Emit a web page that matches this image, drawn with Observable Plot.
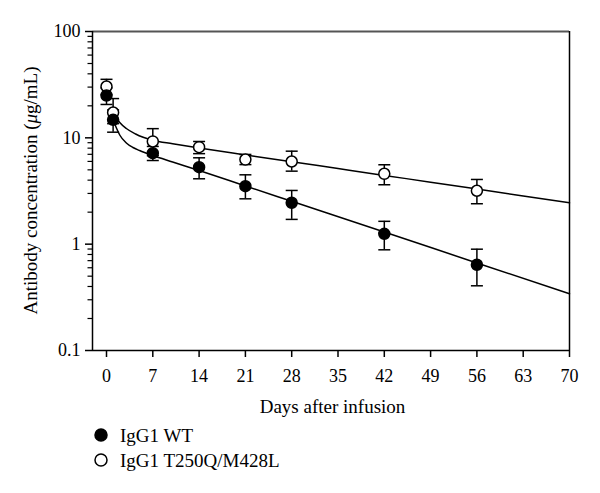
<!DOCTYPE html>
<html>
<head>
<meta charset="utf-8">
<script src="https://cdn.jsdelivr.net/npm/d3@7"></script>
<script src="https://cdn.jsdelivr.net/npm/@observablehq/plot@0.6"></script>
<style>
  html, body { margin: 0; padding: 0; background: white; }
</style>
</head>
<body>
<div id="chart"></div>
<script>
// ---- Data ----
const days = [0, 1, 7, 14, 21, 28, 42, 56];

const wtMean = [25.0, 14.8, 7.17, 5.30, 3.51, 2.45, 1.25, 0.64];
const wtLow  = [20.6, 11.3, 6.12, 4.12, 2.67, 1.71, 0.885, 0.406];
const wtHigh = [29.5, 18.3, 8.3, 6.49, 4.49, 3.20, 1.64, 0.897];

const mutMean = [30.4, 17.3, 9.24, 8.17, 6.25, 5.99, 4.59, 3.18];
const mutLow  = [25.5, 13.6, 6.8, 7.1, 5.6, 4.86, 3.62, 2.40];
const mutHigh = [35.5, 23.4, 12.2, 9.24, 6.98, 7.49, 5.58, 4.06];

// fitted curves
const wtFitDays = [1, 1.5, 2, 3, 4, 5, 7, 10, 14, 21, 28, 42, 56, 70];
const wtFit     = [14.87, 12.37, 10.63, 8.94, 8.11, 7.60, 6.82, 5.93, 4.93, 3.53, 2.53, 1.30, 0.666, 0.342];

const mutFitDays = [1, 1.5, 2, 3, 4.4, 7, 10, 14, 21, 28, 35, 42, 49, 56, 63, 70];
const mutFit     = [17.31, 15.37, 13.94, 12.24, 10.87, 9.48, 8.79, 8.02, 6.91, 5.97, 5.14, 4.43, 3.83, 3.30, 2.84, 2.45];

const xTicks = [0, 7, 14, 21, 28, 35, 42, 49, 56, 63, 70];
const yMajor = [0.1, 1, 10, 100];
const yMinor = [0.2,0.3,0.4,0.5,0.6,0.7,0.8,0.9, 2,3,4,5,6,7,8,9, 20,30,40,50,60,70,80,90];

const seriesNames = ["IgG1 WT", "IgG1 T250Q/M428L"];
const xDomain = [-2.117, 70];
const yDomain = [0.1, 100];

// ---- Build tables ----
const wt = days.map((d, i) => ({day: d, mean: wtMean[i], lo: wtLow[i], hi: wtHigh[i]}));
const mut = days.map((d, i) => ({day: d, mean: mutMean[i], lo: mutLow[i], hi: mutHigh[i]}));
const wtCurve = wtFitDays.map((d, i) => ({day: d, v: wtFit[i]}));
const mutCurve = mutFitDays.map((d, i) => ({day: d, v: mutFit[i]}));

const capSymbol = {
  draw(ctx, size) { const w = 6; ctx.moveTo(-w, 0); ctx.lineTo(w, 0); }
};

const W = 600, H = 493;
const mL = 92, mR = 31, mT = 31, mB = H - 350;

const errMarks = (data) => [
  Plot.ruleX(data, {x: "day", y1: "lo", y2: "hi", stroke: "black", strokeWidth: 1.5}),
  Plot.dot(data, {x: "day", y: "lo", symbol: capSymbol, r: 6, fill: "none", stroke: "black", strokeWidth: 1.5}),
  Plot.dot(data, {x: "day", y: "hi", symbol: capSymbol, r: 6, fill: "none", stroke: "black", strokeWidth: 1.5})
];

const svg = Plot.plot({
  width: W,
  height: H,
  marginLeft: mL,
  marginRight: mR,
  marginTop: mT,
  marginBottom: mB,
  style: {fontFamily: "'Liberation Serif', serif", fontSize: "18px", color: "black", background: "white"},
  x: {domain: xDomain, label: null},
  y: {type: "log", domain: yDomain, label: null},
  marks: [
    Plot.axisX({ticks: xTicks, tickSize: 7, tickPadding: 12, tickFormat: d => String(d), label: null, strokeWidth: 1.5, fontSize: 18}),
    Plot.axisY({ticks: yMajor, tickSize: 7, tickPadding: 5, tickFormat: d => String(d), label: null, strokeWidth: 1.5, fontSize: 18}),
    Plot.axisY({ticks: yMinor, tickSize: 4.5, tickFormat: () => "", label: null, strokeWidth: 1.2}),
    Plot.ruleY([yDomain[1]], {stroke: "#555", strokeWidth: 2}),
    Plot.ruleX([xDomain[1]], {stroke: "black", strokeWidth: 1.5}),
    Plot.ruleY([yDomain[0]], {stroke: "black", strokeWidth: 1.5}),
    Plot.ruleX([xDomain[0]], {stroke: "black", strokeWidth: 1.5}),
    Plot.line(mutCurve, {x: "day", y: "v", curve: "monotone-x", stroke: "black", strokeWidth: 1.5}),
    Plot.line(wtCurve, {x: "day", y: "v", curve: "monotone-x", stroke: "black", strokeWidth: 1.5}),
    ...errMarks(mut),
    ...errMarks(wt),
    Plot.dot(mut, {x: "day", y: "mean", r: 5.5, fill: "white", stroke: "black", strokeWidth: 1.5}),
    Plot.dot(wt, {x: "day", y: "mean", r: 5.5, fill: "black", stroke: "black", strokeWidth: 1.5})
  ]
});

// ---- axis titles and legend as real text ----
const s = d3.select(svg);
const font = "'Liberation Serif', serif";

s.append("text")
  .attr("x", (mL + W - mR) / 2 + 2)
  .attr("y", 413)
  .attr("text-anchor", "middle")
  .attr("font-family", font)
  .attr("font-size", 19)
  .attr("fill", "black")
  .text("Days after infusion");

const yl = s.append("text")
  .attr("transform", `translate(37, ${(mT + 350) / 2}) rotate(-90)`)
  .attr("text-anchor", "middle")
  .attr("font-family", font)
  .attr("font-size", 19)
  .attr("fill", "black");
yl.append("tspan").text("Antibody concentration (");
yl.append("tspan").attr("font-style", "italic").text("μ");
yl.append("tspan").text("g/mL)");

const legendRows = [
  {name: seriesNames[0], fill: "black", cy: 435},
  {name: seriesNames[1], fill: "white", cy: 460}
];
for (const row of legendRows) {
  s.append("circle")
    .attr("cx", 101).attr("cy", row.cy).attr("r", 6)
    .attr("fill", row.fill).attr("stroke", "black").attr("stroke-width", 1.5);
  s.append("text")
    .attr("x", 120).attr("y", row.cy + 6.5)
    .attr("text-anchor", "start")
    .attr("font-family", font).attr("font-size", 19).attr("fill", "black")
    .text(row.name);
}

document.getElementById("chart").appendChild(svg);
</script>
</body>
</html>
